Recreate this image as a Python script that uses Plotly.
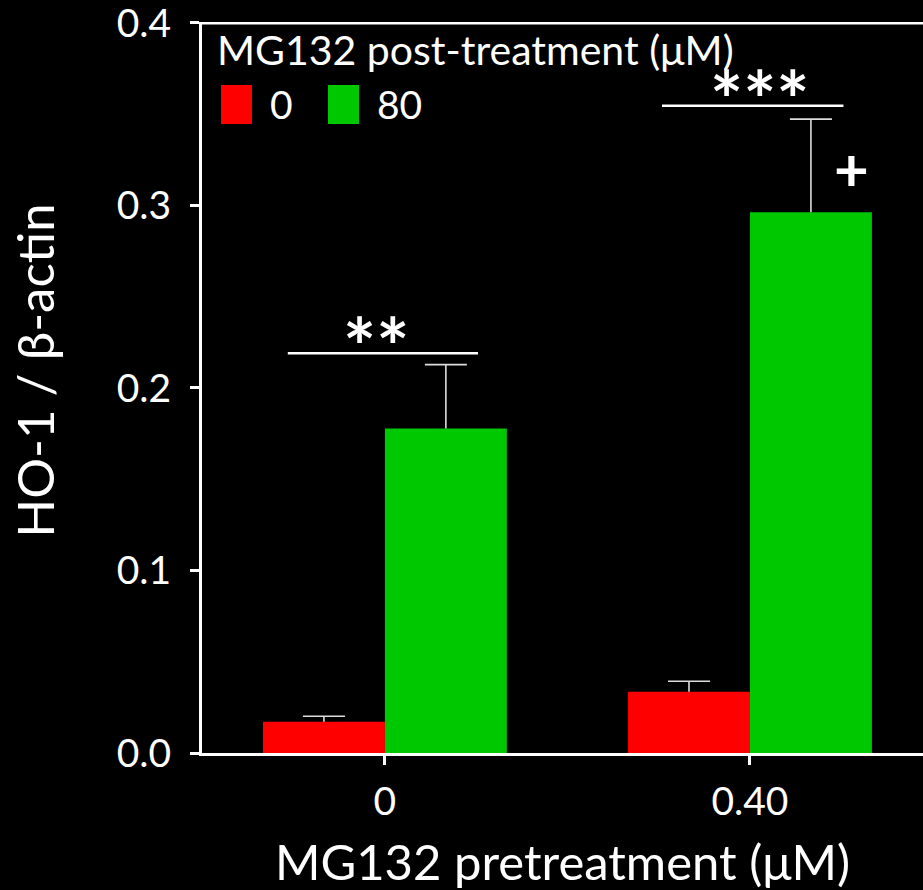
import plotly.graph_objects as go

# MG132 pretreatment groups and HO-1 / beta-actin ratios
pretreat = ["0", "0.40"]
post_labels = ["0", "80"]
ho1_post0 = [0.0171, 0.0335]
ho1_post0_err = [0.0030, 0.0058]
ho1_post80 = [0.1778, 0.2963]
ho1_post80_err = [0.0350, 0.0510]
y_ticks = [0.0, 0.1, 0.2, 0.3, 0.4]

RED = "#FF0000"
GREEN = "#00C800"
ERR = "#DDDDDD"
FONT = "Lato"
BAR_W = 0.334

fig = go.Figure()
xpos = list(range(len(pretreat)))

series = [
    (post_labels[0], ho1_post0, ho1_post0_err, RED, -BAR_W),
    (post_labels[1], ho1_post80, ho1_post80_err, GREEN, 0.0),
]
for name, vals, errs, color, off in series:
    # bar with a cap-less upper error stem
    fig.add_trace(go.Bar(
        x=xpos, y=vals, name=name, marker_color=color, marker_line_width=0,
        width=BAR_W, offset=off, showlegend=False,
        error_y=dict(type="data", array=errs, arrayminus=[0] * len(errs),
                     color=ERR, thickness=1.6, width=0),
    ))
    # error-bar caps at mean + SE
    fig.add_trace(go.Scatter(
        x=[p + off + BAR_W / 2 for p in xpos],
        y=[v + e for v, e in zip(vals, errs)],
        mode="markers", showlegend=False, hoverinfo="skip",
        marker=dict(symbol="line-ew", size=30, line=dict(color=ERR, width=1.6)),
    ))

# top frame line
fig.add_shape(type="line", xref="paper", yref="y", x0=0, x1=1, y0=0.4, y1=0.4,
              line=dict(color="white", width=3))

# significance brackets
sig = [
    dict(x0=-0.266, x1=0.255, y=0.219, text="**", dx=-7),
    dict(x0=0.759, x1=1.256, y=0.3546, text="***", dx=7),
]
for s in sig:
    fig.add_shape(type="line", xref="x", yref="y", x0=s["x0"], x1=s["x1"],
                  y0=s["y"], y1=s["y"], line=dict(color="white", width=2.5))
    fig.add_annotation(x=(s["x0"] + s["x1"]) / 2, y=s["y"], xref="x", yref="y",
                       text="<b>" + s["text"] + "</b>", showarrow=False,
                       yanchor="bottom", yshift=-42, xshift=s["dx"],
                       font=dict(family=FONT, size=78, color="white"))
fig.add_annotation(x=1.277, y=0.3205, xref="x", yref="y", text="<b>+</b>",
                   showarrow=False, font=dict(family=FONT, size=60, color="white"))

W, H = 721.0, 731.5

# y-axis title
fig.add_annotation(x=(35 - 202) / W, y=(753.5 - 371) / H, xref="paper", yref="paper",
                   text="HO-1 / β-actin", textangle=-90, showarrow=False,
                   xanchor="center", yanchor="middle",
                   font=dict(family=FONT, size=51, color="white"))

# legend drawn as boxes and labels
fig.add_annotation(x=(215 - 202) / W, y=(753.5 - 50) / H, xref="paper", yref="paper",
                   text="MG132 post-treatment (μM)", showarrow=False,
                   xanchor="left", yanchor="middle",
                   font=dict(family=FONT, size=41, color="white"))
legend_items = [(post_labels[0], RED, 221, 268), (post_labels[1], GREEN, 328, 375)]
for label, color, bx, tx in legend_items:
    x0 = (bx - 202) / W
    fig.add_shape(type="rect", xref="paper", yref="paper",
                  x0=x0, x1=x0 + 31 / W, y0=(753.5 - 124) / H, y1=(753.5 - 85) / H,
                  fillcolor=color, line_width=0)
    fig.add_annotation(x=(tx - 202) / W, y=(753.5 - 104.5) / H, xref="paper", yref="paper",
                       text=label, showarrow=False, xanchor="left", yanchor="middle",
                       font=dict(family=FONT, size=39, color="white"))

fig.update_layout(
    width=923, height=890,
    paper_bgcolor="black", plot_bgcolor="black",
    margin=dict(l=202, r=0, t=22, b=136.5),
    barmode="overlay",
    font=dict(family=FONT, color="white"),
    xaxis=dict(
        range=[-0.501, 1.474], tickvals=xpos, ticktext=pretreat,
        showgrid=False, zeroline=False,
        showline=True, linecolor="white", linewidth=3,
        ticks="outside", ticklen=9, tickwidth=2.5, tickcolor="white",
        tickfont=dict(family=FONT, size=39, color="white"),
        ticklabelstandoff=3,
        title=dict(text="MG132 pretreatment (μM)", standoff=31,
                   font=dict(family=FONT, size=49, color="white")),
    ),
    yaxis=dict(
        range=[0, 0.4005], tickvals=y_ticks, ticktext=[f"{v:.1f}" for v in y_ticks],
        showgrid=False, zeroline=False,
        showline=True, linecolor="white", linewidth=3,
        ticks="outside", ticklen=9, tickwidth=2.5, tickcolor="white",
        tickfont=dict(family=FONT, size=39, color="white"),
        ticklabelstandoff=11, ticklabeloverflow="allow",
    ),
)

fig.write_html("out.html")
